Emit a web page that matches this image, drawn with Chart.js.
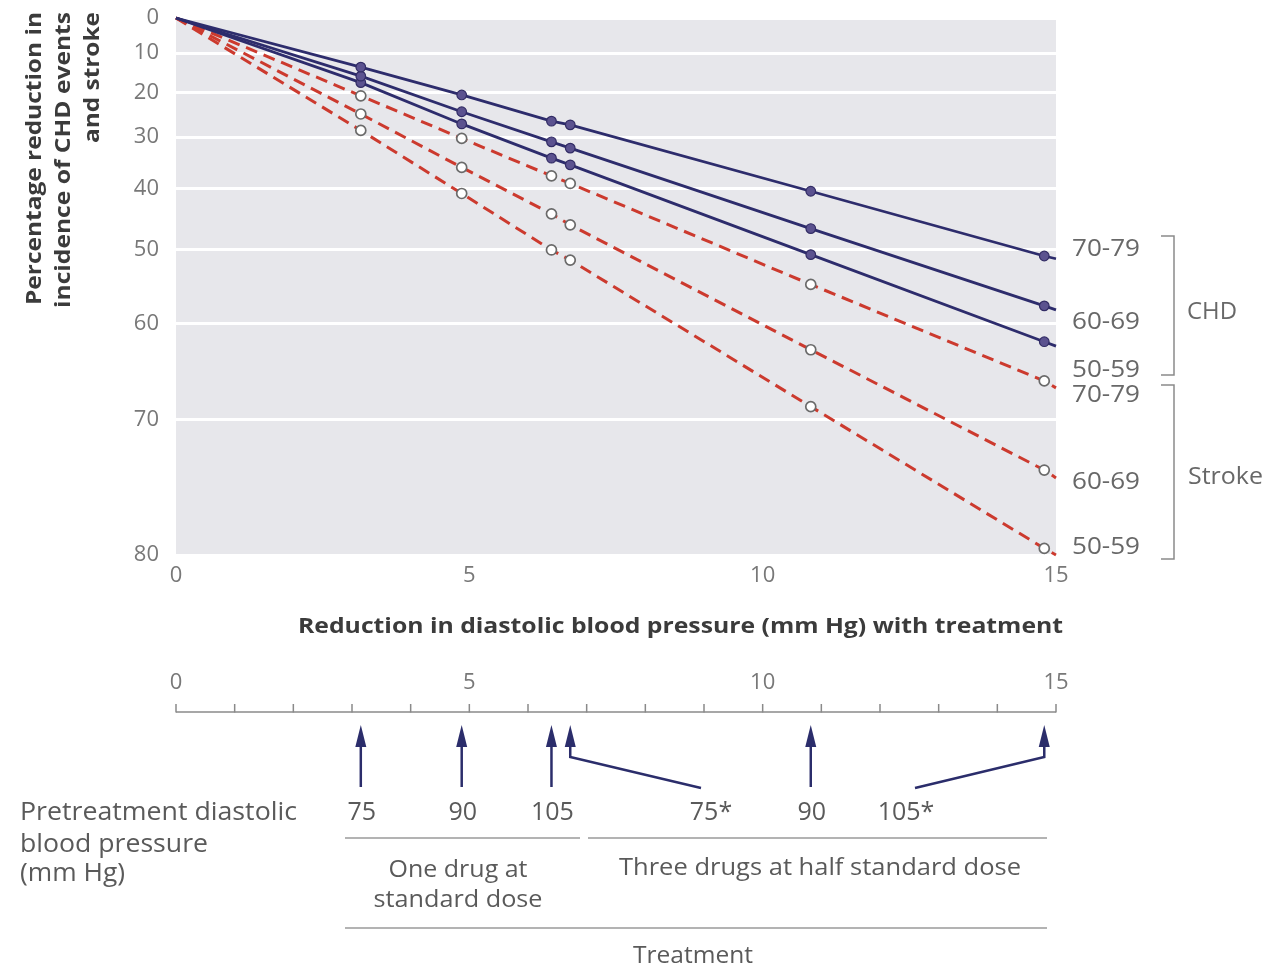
<!DOCTYPE html>
<html>
<head>
<meta charset="utf-8">
<script src="https://cdn.jsdelivr.net/npm/chart.js"></script>
<style>
html,body{margin:0;padding:0;background:#ffffff;}
#wrap{width:1288px;height:968px;position:relative;}
canvas{display:block;}
</style>
</head>
<body>
<div id="wrap"><canvas id="c" width="1288" height="968"></canvas></div>
<script>
// ---- data ----
// x: reduction in diastolic BP (mm Hg); first = origin, last = line end
const bpReduction = [0, 3.15, 4.87, 6.4, 6.72, 10.82, 14.8, 15];
// % reduction in incidence
const chd7079    = [0, 13.7, 20.6, 26.6, 27.4, 40.5, 51.0, 51.4];
const chd6069    = [0, 16.0, 24.5, 31.0, 32.3, 46.8, 57.8, 58.3];
const chd5059    = [0, 17.6, 27.2, 34.3, 35.6, 50.8, 62.1, 62.6];
const stroke7079 = [0, 20.8, 30.3, 37.7, 39.1, 55.0, 66.3, 67.0];
const stroke6069 = [0, 25.0, 36.1, 44.4, 46.2, 63.0, 74.2, 74.8];
const stroke5059 = [0, 28.6, 40.9, 50.1, 51.6, 68.8, 79.6, 80.0];
const yTickValues = [0, 10, 20, 30, 40, 50, 60, 70, 80];
const xTickValues = [0, 5, 10, 15];
const ageGroups = ['70-79', '60-69', '50-59'];
const pretreatmentDBP = ['75', '90', '105', '75*', '90', '105*'];

const FONT = "'Open Sans', 'Noto Sans', sans-serif";
Chart.defaults.font.family = FONT;

function toPoints(arr) {
  return bpReduction.map((x, i) => ({ x: x, y: 100 - arr[i] }));
}
function radii(r) {
  return bpReduction.map((x, i) => (i === 0 || i === bpReduction.length - 1) ? 0 : r);
}
function chdSet(arr, label) {
  return {
    label: label, data: toPoints(arr),
    borderColor: '#2d2c6c', borderWidth: 2.8,
    pointRadius: radii(4.8), pointBackgroundColor: '#5b528f',
    pointBorderColor: '#322c65', pointBorderWidth: 1.2,
    tension: 0, clip: false
  };
}
function strokeSet(arr, label) {
  return {
    label: label, data: toPoints(arr),
    borderColor: '#cc3a2e', borderWidth: 3, borderDash: [12, 7],
    pointRadius: radii(5), pointBackgroundColor: '#ffffff',
    pointBorderColor: '#6a6a6a', pointBorderWidth: 1.7,
    tension: 0, clip: false
  };
}

function txt(ctx, s, x, y, o) {
  ctx.save();
  ctx.translate(x, y);
  if (o.rot) ctx.rotate(o.rot);
  ctx.font = (o.weight || 400) + ' ' + o.size + 'px ' + FONT;
  ctx.fillStyle = o.color || '#555';
  ctx.textAlign = o.align || 'left';
  ctx.textBaseline = 'middle';
  if (o.width) {
    const w = ctx.measureText(s).width;
    ctx.scale(o.width / w, 1);
  }
  ctx.fillText(s, 0, 0);
  ctx.restore();
}
function seg(ctx, pts, color, lw) {
  ctx.save();
  ctx.strokeStyle = color; ctx.lineWidth = lw;
  ctx.lineJoin = 'miter'; ctx.lineCap = 'butt';
  ctx.beginPath();
  ctx.moveTo(pts[0][0], pts[0][1]);
  for (let i = 1; i < pts.length; i++) ctx.lineTo(pts[i][0], pts[i][1]);
  ctx.stroke();
  ctx.restore();
}

const bgPlugin = {
  id: 'bg',
  beforeDraw(chart) {
    const { ctx, chartArea: a } = chart;
    ctx.save();
    ctx.fillStyle = '#e7e7eb';
    ctx.fillRect(a.left, a.top, a.right - a.left, a.bottom - a.top);
    ctx.restore();
  }
};

const annoPlugin = {
  id: 'anno',
  afterDraw(chart) {
    const ctx = chart.ctx;
    const xs = chart.scales.x;
    const px = v => xs.getPixelForValue(v);

    // y-axis title (rotated, right-aligned at the top)
    const tc = '#3b3b3b';
    txt(ctx, 'Percentage reduction in', 35, 12, { rot: -Math.PI / 2, align: 'right', weight: 700, size: 22, width: 293, color: tc });
    txt(ctx, 'incidence of CHD events', 64, 12, { rot: -Math.PI / 2, align: 'right', weight: 700, size: 22, width: 296, color: tc });
    txt(ctx, 'and stroke', 93, 12, { rot: -Math.PI / 2, align: 'right', weight: 700, size: 22, width: 131, color: tc });

    // x-axis title
    txt(ctx, 'Reduction in diastolic blood pressure (mm Hg) with treatment', 680.5, 627,
        { align: 'center', weight: 700, size: 22, width: 765, color: tc });

    // right-hand labels and brackets
    const lc = '#686868';
    const chdY = [249, 322, 370];
    const strY = [395, 482, 547];
    ageGroups.forEach((g, i) => {
      txt(ctx, g, 1072, chdY[i], { size: 24, width: 68, color: lc });
      txt(ctx, g, 1072, strY[i], { size: 24, width: 68, color: lc });
    });
    seg(ctx, [[1161, 236], [1174, 236], [1174, 375], [1161, 375]], '#8a8a8a', 1.5);
    seg(ctx, [[1161, 385], [1174, 385], [1174, 559], [1161, 559]], '#8a8a8a', 1.5);
    txt(ctx, 'CHD', 1187, 312, { size: 24, width: 50, color: lc });
    txt(ctx, 'Stroke', 1188, 477, { size: 24, width: 75, color: lc });

    // secondary axis below
    const axisY = 712;
    const x0 = xs.min, x1 = xs.max;
    seg(ctx, [[px(x0), axisY], [px(x1), axisY]], '#8a8a8a', 1.5);
    for (let v = x0; v <= x1; v++) {
      seg(ctx, [[px(v), axisY + 0.5], [px(v), axisY - 8]], '#8a8a8a', 1.5);
    }
    xTickValues.forEach(v => {
      txt(ctx, String(v), px(v), 683, { align: 'center', size: 22, color: '#787878' });
    });

    // arrows
    const ac = '#2b2d6b';
    const arrowVals = bpReduction.slice(1, 7);
    const labelX = [];
    arrowVals.forEach((v, i) => {
      const p = px(v);
      ctx.save();
      ctx.fillStyle = ac;
      ctx.beginPath();
      ctx.moveTo(p, 725); ctx.lineTo(p - 5.5, 747); ctx.lineTo(p + 5.5, 747); ctx.closePath();
      ctx.fill();
      ctx.restore();
      const lab = pretreatmentDBP[i];
      if (lab.indexOf('*') >= 0) {
        const end = lab === '75*' ? [701, 788] : [915, 788];
        seg(ctx, [[p, 744], [p, 757], end], ac, 2.5);
        labelX.push(lab === '75*' ? 711 : 906);
      } else {
        seg(ctx, [[p, 744], [p, 787]], ac, 2.5);
        labelX.push(p + 1);
      }
    });

    const bc = '#5a5a5a';
    pretreatmentDBP.forEach((lab, i) => {
      txt(ctx, lab, labelX[i], 813, { align: 'center', size: 25, color: bc });
    });
    txt(ctx, 'Pretreatment diastolic', 20, 813, { size: 25, width: 277, color: bc });
    txt(ctx, 'blood pressure', 20, 845, { size: 25, width: 188, color: bc });
    txt(ctx, '(mm Hg)', 20, 874, { size: 25, width: 105, color: bc });

    seg(ctx, [[345, 838], [580, 838]], '#9a9a9a', 1.5);
    seg(ctx, [[588, 838], [1047, 838]], '#9a9a9a', 1.5);
    txt(ctx, 'One drug at', 458, 870, { align: 'center', size: 24, width: 139, color: bc });
    txt(ctx, 'standard dose', 458, 900, { align: 'center', size: 24, width: 169, color: bc });
    txt(ctx, 'Three drugs at half standard dose', 820, 868, { align: 'center', size: 24, width: 402, color: bc });
    seg(ctx, [[345, 928], [1047, 928]], '#9a9a9a', 1.5);
    txt(ctx, 'Treatment', 693, 956, { align: 'center', size: 24, width: 120, color: bc });
  }
};

new Chart(document.getElementById('c'), {
  type: 'line',
  data: {
    datasets: [
      chdSet(chd7079, 'CHD 70-79'),
      chdSet(chd6069, 'CHD 60-69'),
      chdSet(chd5059, 'CHD 50-59'),
      strokeSet(stroke7079, 'Stroke 70-79'),
      strokeSet(stroke6069, 'Stroke 60-69'),
      strokeSet(stroke5059, 'Stroke 50-59')
    ]
  },
  options: {
    responsive: false,
    devicePixelRatio: 1,
    animation: false,
    events: [],
    layout: { padding: { left: 0, top: 18, right: 232, bottom: 363 } },
    plugins: { legend: { display: false }, tooltip: { enabled: false }, title: { display: false } },
    scales: {
      x: {
        type: 'linear', min: 0, max: 15,
        afterBuildTicks: s => { s.ticks = xTickValues.map(v => ({ value: v })); },
        afterFit: s => { s.height = 50; s.paddingLeft = 0; s.paddingRight = 0; s.paddingTop = 0; s.paddingBottom = 0; },
        ticks: { color: '#787878', font: { size: 22 }, padding: 8, maxRotation: 0, autoSkip: false },
        grid: { display: false, drawTicks: false },
        border: { display: false }
      },
      y: {
        type: 'logarithmic', min: 20, max: 100,
        afterBuildTicks: s => { s.ticks = yTickValues.map(v => ({ value: 100 - v })); },
        afterFit: s => { s.width = 176; s.paddingTop = 0; s.paddingBottom = 0; s.paddingLeft = 0; s.paddingRight = 0; },
        ticks: {
          color: '#787878', font: { size: 22 }, padding: 17, autoSkip: false,
          callback: v => String(Math.round(100 - v))
        },
        grid: { color: '#ffffff', lineWidth: 3, drawTicks: false },
        border: { display: false }
      }
    }
  },
  plugins: [bgPlugin, annoPlugin]
});
</script>
</body>
</html>
